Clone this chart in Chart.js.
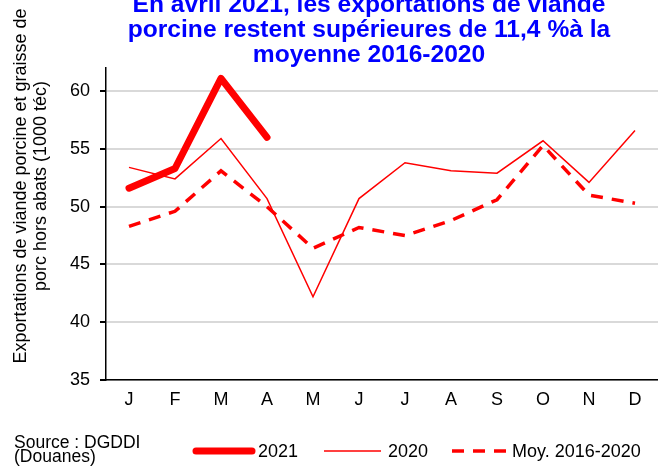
<!DOCTYPE html>
<html lang="fr">

<head>
    <meta charset="UTF-8">
    <title>Exportations de viande porcine</title>
    <script src="https://cdn.jsdelivr.net/npm/chart.js"></script>
    <style>
        body { margin: 0; background: #fff; }
    </style>
</head>

<body>
    <canvas id="myChart" width="658" height="469"></canvas>

    <script>
        // données (1000 téc)
        const mois = ["J", "F", "M", "A", "M", "J", "J", "A", "S", "O", "N", "D"];
        const exp2021 = [51.6, 53.3, 61.1, 56.0];
        const exp2020 = [53.4, 52.4, 55.9, 50.7, 42.2, 50.7, 53.8, 53.1, 52.9, 55.7, 52.1, 56.6];
        const moy2016_2020 = [48.3, 49.6, 53.1, 50.0, 46.4, 48.2, 47.5, 48.8, 50.6, 55.3, 51.0, 50.3];
        const yTicks = [35, 40, 45, 50, 55, 60];

        const titre = [
            "En avril 2021, les exportations de viande",
            "porcine restent supérieures de 11,4 %à la",
            "moyenne 2016-2020"
        ];
        const titreAxe = [
            "Exportations de viande porcine et graisse de",
            "porc hors abats (1000 téc)"
        ];
        const source = ["Source : DGDDI", "(Douanes)"];

        const police = "'Liberation Sans', Arial, sans-serif";
        const rouge = "#ff0000";

        // textes et légende dessinés à la main
        const textes = {
            id: "textes",
            afterDraw(chart) {
                const ctx = chart.ctx;
                ctx.save();

                ctx.fillStyle = "#0000ff";
                ctx.font = "bold 24.6px " + police;
                ctx.textAlign = "center";
                ctx.textBaseline = "alphabetic";
                titre.forEach((l, i) => ctx.fillText(l, 369, 12 + i * 25));

                ctx.fillStyle = "#000";
                ctx.font = "18px " + police;
                ctx.save();
                ctx.translate(0, 186);
                ctx.rotate(-Math.PI / 2);
                ctx.textBaseline = "middle";
                titreAxe.forEach((l, i) => ctx.fillText(l, 0, 21 + i * 20));
                ctx.restore();

                ctx.font = "17.5px " + police;
                ctx.textAlign = "left";
                source.forEach((l, i) => ctx.fillText(l, 14, 448 + i * 14));

                // légende
                const y = 451;
                const items = [
                    { x1: 196, x2: 252, tx: 258 },
                    { x1: 324, x2: 381, tx: 388 },
                    { x1: 452, x2: 508, tx: 512 }
                ];
                ctx.font = "18px " + police;
                ctx.textBaseline = "middle";
                chart.data.datasets.forEach((ds, i) => {
                    const it = items[i];
                    ctx.strokeStyle = ds.borderColor;
                    ctx.lineWidth = ds.borderWidth;
                    ctx.lineCap = ds.borderCapStyle;
                    ctx.setLineDash(ds.borderDash || []);
                    ctx.beginPath();
                    ctx.moveTo(it.x1, y);
                    ctx.lineTo(it.x2, y);
                    ctx.stroke();
                    ctx.setLineDash([]);
                    ctx.fillStyle = "#000";
                    ctx.fillText(ds.label, it.tx, y + 1);
                });

                ctx.restore();
            }
        };

        const config = {
            type: "line",
            data: {
                labels: mois,
                datasets: [{
                    label: "2021",
                    data: exp2021,
                    borderColor: rouge,
                    borderWidth: 7,
                    borderCapStyle: "round",
                    borderJoinStyle: "round",
                    pointRadius: 0,
                    tension: 0
                }, {
                    label: "2020",
                    data: exp2020,
                    borderColor: rouge,
                    borderWidth: 1.5,
                    borderCapStyle: "butt",
                    pointRadius: 0,
                    tension: 0
                }, {
                    label: "Moy. 2016-2020",
                    data: moy2016_2020,
                    borderColor: rouge,
                    borderWidth: 3.5,
                    borderDash: [12, 9],
                    borderCapStyle: "butt",
                    pointRadius: 0,
                    tension: 0
                }]
            },
            options: {
                responsive: false,
                animation: false,
                devicePixelRatio: 1,
                layout: { padding: { top: 68, left: 0, right: 0, bottom: 0 } },
                plugins: {
                    legend: { display: false },
                    title: { display: false },
                    tooltip: { enabled: false }
                },
                scales: {
                    x: {
                        offset: true,
                        grid: { display: false, drawTicks: false },
                        border: { display: true, color: "#000", width: 1.5 },
                        ticks: { color: "#000", font: { size: 18, family: police }, padding: 9 },
                        afterFit: (scale) => { scale.height = 89; }
                    },
                    y: {
                        min: 35,
                        max: 62,
                        grid: { color: "#d9d9d9", lineWidth: 2, tickColor: "#000", tickLength: 6 },
                        border: { display: true, color: "#000", width: 1.5 },
                        ticks: { color: "#000", font: { size: 18, family: police }, padding: 10 },
                        afterBuildTicks: (scale) => { scale.ticks = yTicks.map(v => ({ value: v })); },
                        afterFit: (scale) => { scale.width = 106; }
                    }
                }
            },
            plugins: [textes]
        };

        const ctx = document.getElementById("myChart").getContext("2d");
        const grafico = new Chart(ctx, config);
    </script>
</body>

</html>
